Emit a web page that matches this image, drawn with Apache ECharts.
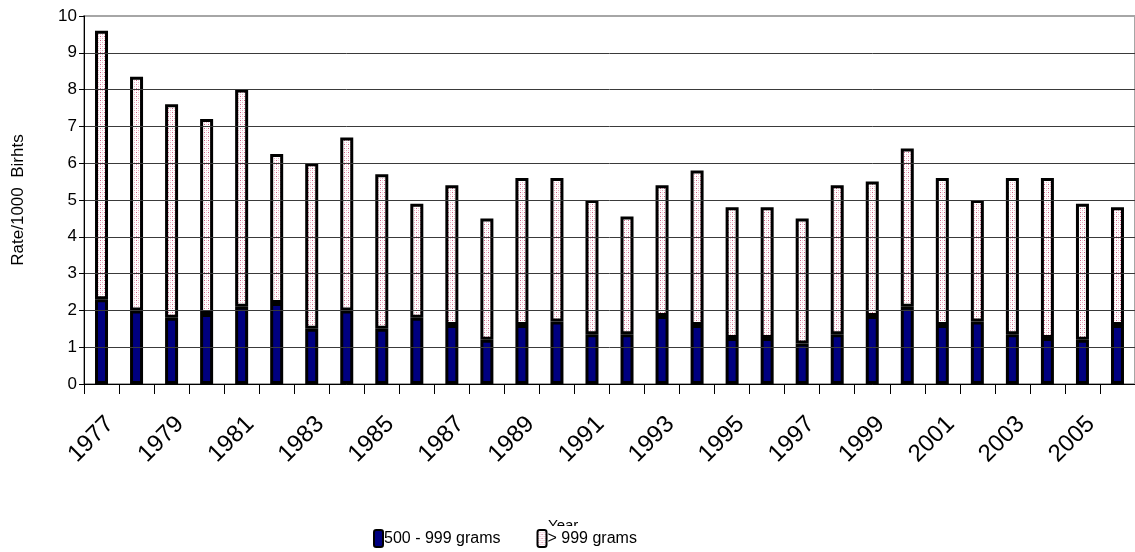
<!DOCTYPE html>
<html>
<head>
<meta charset="utf-8">
<script src="https://cdn.jsdelivr.net/npm/echarts@6/dist/echarts.min.js"></script>
<style>
  html, body { margin: 0; padding: 0; background: #fff; }
  #chart { width: 1135px; height: 552px; }
</style>
</head>
<body>
<div id="chart"></div>
<script>
// Years on the category axis
const years = ['1977','1978','1979','1980','1981','1982','1983','1984','1985','1986',
               '1987','1988','1989','1990','1991','1992','1993','1994','1995','1996',
               '1997','1998','1999','2000','2001','2002','2003','2004','2005','2006'];

// Rate per 1000 births, 500 - 999 grams
const grams500to999 = [2.3, 2.0, 1.8, 1.9, 2.1, 2.2, 1.5, 2.0, 1.5, 1.8,
                       1.6, 1.2, 1.6, 1.7, 1.35, 1.35, 1.85, 1.6, 1.25, 1.25,
                       1.1, 1.35, 1.85, 2.1, 1.6, 1.7, 1.35, 1.25, 1.2, 1.6];

// Rate per 1000 births, > 999 grams
const gramsOver999 = [7.3, 6.35, 5.8, 5.3, 5.9, 4.05, 4.5, 4.7, 4.2, 3.1,
                      3.8, 3.3, 4.0, 3.9, 3.65, 3.2, 3.55, 4.2, 3.55, 3.55,
                      3.4, 4.05, 3.65, 4.3, 4.0, 3.3, 4.25, 4.35, 3.7, 3.2];

// Y axis ticks 0..10
const yTicks = [0, 1, 2, 3, 4, 5, 6, 7, 8, 9, 10];

const seriesNames = ['500 - 999 grams', '> 999 grams'];

// Dotted pink fill for the upper segment
function dotPattern() {
  const c = document.createElement('canvas');
  c.width = 4; c.height = 4;
  const g = c.getContext('2d');
  g.fillStyle = '#ffffff';
  g.fillRect(0, 0, 4, 4);
  g.fillStyle = '#cc5f86'; g.fillRect(0, 0, 1, 1);
  g.fillStyle = '#eaa8bd'; g.fillRect(2, 2, 1, 1);
  g.fillStyle = '#f2c8d5'; g.fillRect(2, 0, 1, 1);
  g.fillStyle = '#f2c8d5'; g.fillRect(0, 2, 1, 1);
  return c;
}

const FONT = "'Liberation Sans', Arial, sans-serif";

const gridColors = yTicks.map((t, i) => (i === yTicks.length - 1 ? '#a6a6a6' : '#3a3a3a'));

const chart = echarts.init(document.getElementById('chart'), null, { renderer: 'canvas' });

chart.setOption({
  animation: false,
  backgroundColor: '#ffffff',
  grid: {
    left: 84, right: -4, top: 16, bottom: 168,
    show: true, borderColor: '#a6a6a6', borderWidth: 2, backgroundColor: 'transparent'
  },
  legend: {
    data: seriesNames,
    left: 369,
    top: 526,
    itemWidth: 9,
    itemHeight: 17,
    itemGap: 36,
    padding: [3, 4, 6, 4],
    backgroundColor: '#ffffff',
    z: 20,
    textStyle: { fontFamily: FONT, fontSize: 16, color: '#000', padding: [0, 0, 0, -4] }
  },
  graphic: [{
    type: 'text',
    left: 548,
    top: 518,
    z: 1,
    style: { text: 'Year', font: '15px ' + FONT, fill: '#000' }
  }],
  xAxis: {
    type: 'category',
    data: years,
    boundaryGap: true,
    z: 5,
    axisLine: { show: true, lineStyle: { color: '#000', width: 1 } },
    axisTick: { show: true, interval: 0, length: 10, lineStyle: { color: '#000' } },
    axisLabel: {
      interval: 1,
      rotate: 45,
      margin: 28,
      verticalAlign: 'top',
      fontFamily: FONT,
      fontSize: 24,
      color: '#000'
    },
    splitLine: { show: false }
  },
  yAxis: {
    type: 'value',
    min: 0,
    max: 10,
    interval: 1,
    z: 5,
    name: 'Rate/1000  Birhts',
    nameLocation: 'middle',
    nameGap: 57,
    nameTextStyle: { fontFamily: FONT, fontSize: 17, color: '#000' },
    axisLine: { show: true, lineStyle: { color: '#000', width: 1 } },
    axisTick: { show: true, length: 5, lineStyle: { color: '#000' } },
    axisLabel: {
      margin: 7,
      fontFamily: FONT,
      fontSize: 17,
      color: '#000',
      formatter: v => (yTicks.indexOf(v) >= 0 ? String(v) : '')
    },
    splitLine: { show: true, lineStyle: { color: gridColors, width: 1 } }
  },
  series: [
    {
      name: seriesNames[0],
      type: 'bar',
      stack: 'rate',
      data: grams500to999,
      barWidth: 13,
      itemStyle: { color: '#000080', borderColor: '#000', borderWidth: 3 }
    },
    {
      name: seriesNames[1],
      type: 'bar',
      stack: 'rate',
      data: gramsOver999,
      barWidth: 13,
      itemStyle: {
        color: { image: dotPattern(), repeat: 'repeat' },
        borderColor: '#000',
        borderWidth: 3
      }
    }
  ]
});
</script>
</body>
</html>
